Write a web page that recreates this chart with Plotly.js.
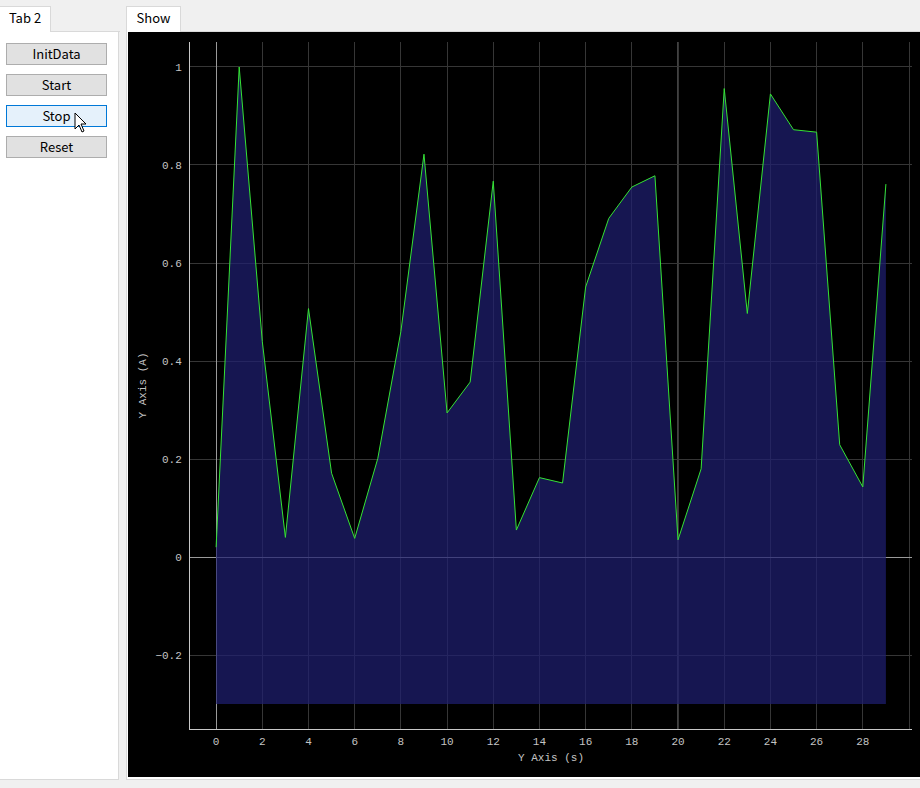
<!DOCTYPE html>
<html>
<head>
<meta charset="utf-8">
<script src="https://cdn.plot.ly/plotly-3.0.1.min.js"></script>
<style>
  html, body { margin:0; padding:0; width:920px; height:788px; background:#f0f0f0; overflow:hidden;
    font-family:"Noto Sans CJK SC","Noto Sans",sans-serif; font-size:13px; color:#000; }
  .abs { position:absolute; box-sizing:border-box; }
  .tabbar { background:#f0f0f0; border-bottom:1px solid #d9d9d9; }
  .tab { background:#fff; border:1px solid #d9d9d9; border-bottom:none; text-align:center; line-height:22px; }
  .panel { background:#fff; border:1px solid #d9d9d9; }
  .btn { background:#e1e1e1; border:1px solid #adadad; text-align:center; line-height:20px; }
  .btn.hover { background:#e5f1fb; border-color:#0078d7; }
</style>
</head>
<body>
<div class="abs tabbar" style="left:0;top:6px;width:120px;height:26px;"></div>
<div class="abs panel" style="left:0;top:31px;width:119px;height:749px;border-left:none;"></div>
<div class="abs tab" style="left:0;top:6px;width:51px;height:26px;border-left:none;">Tab 2</div>
<div class="abs btn" style="left:6px;top:43px;width:101px;height:22px;">InitData</div>
<div class="abs btn" style="left:6px;top:74px;width:101px;height:22px;">Start</div>
<div class="abs btn hover" style="left:6px;top:105px;width:101px;height:22px;">Stop</div>
<div class="abs btn" style="left:6px;top:136px;width:101px;height:22px;">Reset</div>

<div class="abs tabbar" style="left:126px;top:6px;width:794px;height:26px;"></div>
<div class="abs panel" style="left:126px;top:31px;width:800px;height:749px;"></div>
<div class="abs tab" style="left:126px;top:6px;width:55px;height:26px;">Show</div>
<div id="chart" class="abs" style="left:128px;top:32px;width:792px;height:745px;background:#000;"></div>

<svg class="abs" style="left:74px;top:112px;" width="14" height="22" viewBox="0 0 14 22">
  <path d="M1 1 L1 17 L5 13 L8 20 L10 19 L7 12 L12 12 Z" fill="#fff" stroke="#000" stroke-width="1"/>
</svg>

<script>
// ---- data ----
const xValues = [0,1,2,3,4,5,6,7,8,9,10,11,12,13,14,15,16,17,18,19,20,21,22,23,24,25,26,27,28,29];
const currentValues = [0.02,1.0,0.44,0.04,0.507,0.171,0.038,0.201,0.46,0.822,0.294,0.357,0.767,0.055,0.162,0.151,
                       0.551,0.691,0.755,0.778,0.035,0.18,0.956,0.497,0.945,0.872,0.867,0.229,0.143,0.761];
const baseline = xValues.map(() => -0.3);
const xTickVals = [0,2,4,6,8,10,12,14,16,18,20,22,24,26,28,30];
const xTickText = ["0","2","4","6","8","10","12","14","16","18","20","22","24","26","28",""];
const yTickVals = [-0.2,0,0.2,0.4,0.6,0.8,1];
const yTickText = ["\u22120.2","0","0.2","0.4","0.6","0.8","1"];
const markerX = 20;

const tickFont = {family:"Liberation Mono, DejaVu Sans Mono, monospace", size:11, color:"#c4c4c4"};

const traces = [
  { x:xValues, y:baseline, type:"scatter", mode:"lines", line:{width:0, color:"rgba(0,0,0,0)"},
    hoverinfo:"skip", showlegend:false },
  { x:xValues, y:currentValues, type:"scatter", mode:"lines", fill:"tonexty",
    fillcolor:"rgba(30,30,112,0.72)", line:{color:"#35e335", width:1}, showlegend:false }
];

const layout = {
  width:792, height:745,
  paper_bgcolor:"#000", plot_bgcolor:"#000",
  margin:{l:62, r:8, t:10, b:48},
  showlegend:false,
  xaxis:{
    range:[-1.13, 30.13], tickvals:xTickVals, ticktext:xTickText,
    showgrid:true, gridcolor:"#363636", gridwidth:1,
    zeroline:true, zerolinecolor:"#9a9a9a", zerolinewidth:1,
    showline:true, linecolor:"#c8c8c8", linewidth:1,
    ticks:"", tickfont:tickFont, ticklabelstandoff:2,
    title:{text:"Y Axis (s)", font:tickFont, standoff:6}
  },
  yaxis:{
    range:[-0.351, 1.051], tickvals:yTickVals, ticktext:yTickText,
    showgrid:true, gridcolor:"#363636", gridwidth:1,
    zeroline:true, zerolinecolor:"#9a9a9a", zerolinewidth:1,
    showline:true, linecolor:"#c8c8c8", linewidth:1,
    ticks:"", tickfont:tickFont, ticklabelstandoff:5,
    title:{text:"Y Axis (A)", font:tickFont, standoff:6}
  },
  shapes:[
    { type:"line", xref:"x", yref:"paper", x0:markerX, x1:markerX, y0:0, y1:1,
      line:{color:"#8a8a8a", width:1}, layer:"below" }
  ]
};

Plotly.newPlot("chart", traces, layout, {displayModeBar:false, staticPlot:true});
</script>
</body>
</html>
